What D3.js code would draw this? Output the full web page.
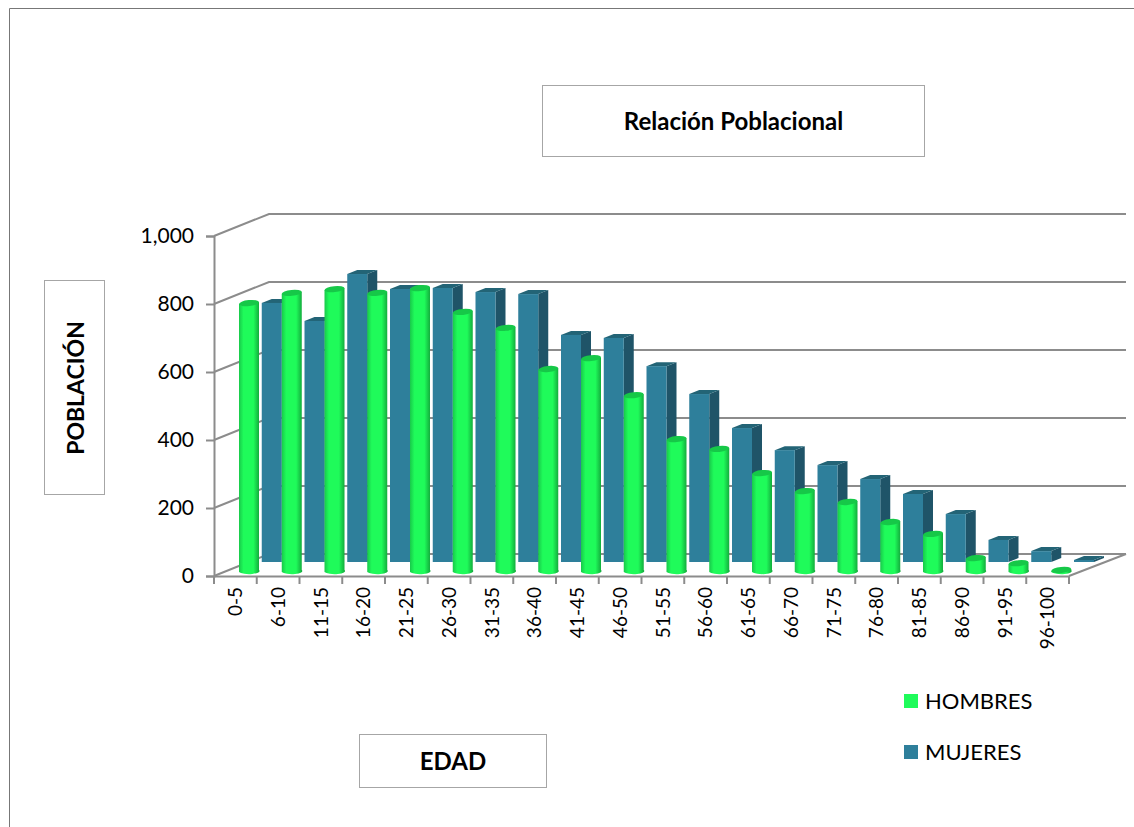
<!DOCTYPE html>
<html>
<head>
<meta charset="utf-8">
<script src="https://cdn.jsdelivr.net/npm/d3@7"></script>
<style>
  html, body { margin: 0; padding: 0; background: #fff; }
  svg { display: block; }
  text { font-family: Lato, "Open Sans", sans-serif; fill: #000; }
</style>
</head>
<body>
<div id="chart"></div>
<script>
var width = 1134,
    height = 827;

var categories = ["0-5","6-10","11-15","16-20","21-25","26-30","31-35","36-40","41-45","46-50",
                  "51-55","56-60","61-65","66-70","71-75","76-80","81-85","86-90","91-95","96-100"];
var hombres = [791,821,832,821,835,765,718,597,629,520,391,362,291,238,206,147,112,41,26,6];
var mujeres = [762,709,847,803,806,794,788,668,659,576,494,394,329,285,244,200,141,65,32,6];
var yTicks = [0,200,400,600,800,1000];

var green = "#1ffb5a", blue = "#2e7f9b", grid = "#8c8c8c";

var svg = d3.select("#chart").append("svg")
    .attr("width", width)
    .attr("height", height);

var defs = svg.append("defs");
var cyl = defs.append("linearGradient").attr("id", "cyl");
cyl.append("stop").attr("offset", "0%").attr("stop-color", "#18c94a");
cyl.append("stop").attr("offset", "22%").attr("stop-color", "#1ffb5a");
cyl.append("stop").attr("offset", "70%").attr("stop-color", "#1ffb5a");
cyl.append("stop").attr("offset", "100%").attr("stop-color", "#12a53a");

// page frame
svg.append("path")
    .attr("d", "M9.5,827V8.5H1134")
    .attr("fill", "none")
    .attr("stroke", "#777")
    .attr("stroke-width", 1);

// front plane scales, the depth is a fixed shift up and to the right
var x = d3.scaleBand().domain(categories).range([214, 1069]);
var y = d3.scaleLinear().domain([0, 1000]).range([576, 236]);
var depthX = 55, depthY = 22;

// back wall + floor
var wall = svg.append("g")
    .attr("fill", "none")
    .attr("stroke", grid)
    .attr("stroke-width", 2);

yTicks.forEach(function (t) {
    wall.append("path")
        .attr("d", "M" + x.range()[0] + "," + y(t) +
                   "L" + (x.range()[0] + depthX) + "," + (y(t) - depthY) +
                   "H" + (x.range()[1] + depthX + 2));
});
wall.append("path")
    .attr("d", "M" + x.range()[1] + "," + y(0) +
               "L" + (x.range()[1] + depthX + 2) + "," + (y(0) - depthY));

// mujeres - box bars, back row
var blueW = 20, sideX = 10, sideY = 4;
var blueG = svg.append("g");
categories.forEach(function (c, i) {
    var left = x(c) + 48 - 42.75 + 0; // front face starts 48px after the band, one row back
    left = x(c) + x.bandwidth() + 5;
    var base = y(0) - 14;
    var top = base - (y(0) - y(mujeres[i]));
    blueG.append("path")
        .attr("fill", "#1f5468")
        .attr("d", "M" + (left + blueW) + "," + top + "l" + sideX + "," + (-sideY) +
                   "V" + (base - sideY) + "l" + (-sideX) + "," + sideY + "Z");
    blueG.append("path")
        .attr("fill", "#236476")
        .attr("d", "M" + left + "," + top + "l" + sideX + "," + (-sideY) + "h" + blueW +
                   "l" + (-sideX) + "," + sideY + "Z");
    blueG.append("rect")
        .attr("x", left).attr("y", top)
        .attr("width", blueW).attr("height", base - top)
        .attr("fill", blue);
});

// hombres - cylinders, front row
var greenW = 20;
var greenG = svg.append("g");
categories.forEach(function (c, i) {
    var left = x(c) + 25;
    var base = y(0) - 4;
    var top = base - (y(0) - y(hombres[i]));
    var rx = greenW / 2, ry = 3;
    greenG.append("path")
        .attr("fill", "url(#cyl)")
        .attr("d", "M" + left + "," + (top + 1) + "V" + base +
                   "A" + rx + "," + ry + " 0 0 0 " + (left + greenW) + "," + (base - 2) +
                   "V" + (top - 1) + "Z");
    greenG.append("ellipse")
        .attr("cx", left + rx).attr("cy", top)
        .attr("rx", rx).attr("ry", ry)
        .attr("transform", "rotate(-6 " + (left + rx) + " " + top + ")")
        .attr("fill", "#16c848");
});

// axes
var yAxis = svg.append("g")
    .attr("transform", "translate(" + x.range()[0] + ",0)")
    .call(d3.axisLeft(y).tickValues(yTicks).tickSize(8).tickPadding(12));
yAxis.selectAll("text").style("font-size", "21px");

var xAxis = svg.append("g")
    .attr("transform", "translate(0," + y(0) + ")")
    .call(d3.axisBottom(x).tickSize(0).tickSizeOuter(0));
xAxis.selectAll("text")
    .style("font-size", "19px")
    .style("text-anchor", "end")
    .attr("transform", "rotate(-90)")
    .attr("x", -11)
    .attr("y", 0)
    .attr("dy", "0.35em");

svg.append("g").selectAll("line")
    .data(categories.concat(["end"]))
    .enter()
    .append("line")
    .attr("x1", function (d, i) { return x.range()[0] + i * x.bandwidth(); })
    .attr("x2", function (d, i) { return x.range()[0] + i * x.bandwidth(); })
    .attr("y1", y(0))
    .attr("y2", y(0) + 8);

svg.selectAll(".domain, .tick line, svg > g > line")
    .attr("stroke", grid)
    .attr("stroke-width", 2);

// boxed titles
function box(bx, by, w, h) {
    svg.append("rect")
        .attr("x", bx).attr("y", by)
        .attr("width", w).attr("height", h)
        .attr("fill", "#fff")
        .attr("stroke", "#a6a6a6")
        .attr("stroke-width", 1);
}

box(542.5, 85.5, 382, 71);
svg.append("text")
    .attr("x", 733.5).attr("y", 130)
    .style("text-anchor", "middle")
    .style("font-weight", "bold")
    .style("font-size", "24px")
    .text("Relación Poblacional");

box(44.5, 280.5, 60, 214);
svg.append("text")
    .attr("transform", "translate(84,388) rotate(-90)")
    .style("text-anchor", "middle")
    .style("font-weight", "bold")
    .style("font-size", "23px")
    .text("POBLACIÓN");

box(359.5, 734.5, 187, 53);
svg.append("text")
    .attr("x", 453).attr("y", 770)
    .style("text-anchor", "middle")
    .style("font-weight", "bold")
    .style("font-size", "24px")
    .text("EDAD");

// legend
var legendItems = [
    { name: "HOMBRES", color: green, y: 701 },
    { name: "MUJERES", color: blue, y: 752 }
];
var legend = svg.append("g").selectAll("g")
    .data(legendItems)
    .enter()
    .append("g");
legend.append("rect")
    .attr("x", 904)
    .attr("y", function (d) { return d.y - 7; })
    .attr("width", 14)
    .attr("height", 14)
    .attr("fill", function (d) { return d.color; });
legend.append("text")
    .attr("x", 925)
    .attr("y", function (d) { return d.y + 8; })
    .style("font-size", "22px")
    .text(function (d) { return d.name; });
</script>
</body>
</html>
